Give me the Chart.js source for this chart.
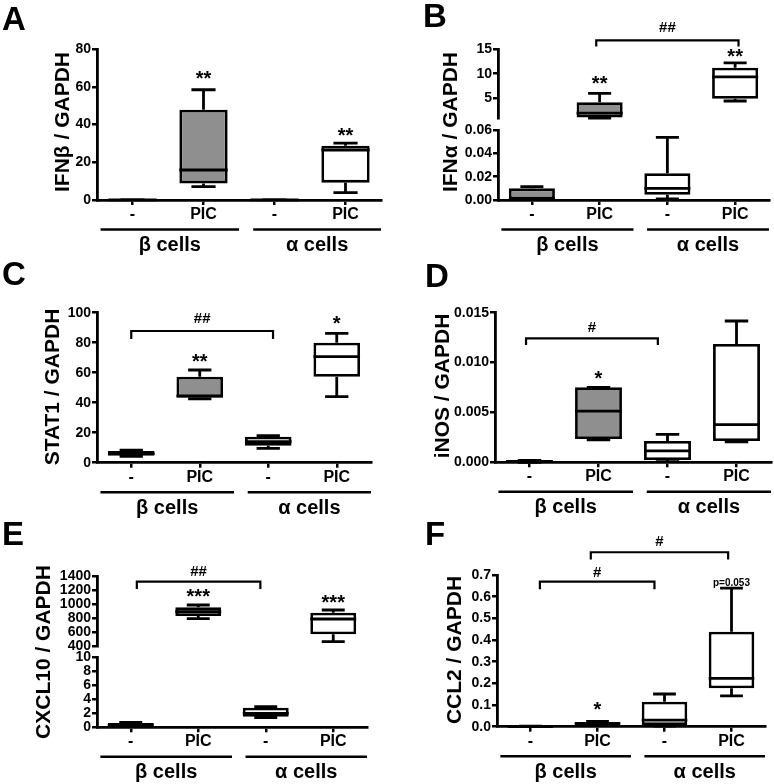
<!DOCTYPE html>
<html>
<head>
<meta charset="utf-8">
<script src="https://cdn.jsdelivr.net/npm/chart.js@4.4.1/dist/chart.umd.min.js"></script>
<style>
html, body { margin: 0; padding: 0; background: #fff; }
#fig { position: relative; width: 774px; height: 784px; overflow: hidden; }
#fig canvas { position: absolute; }
</style>
</head>
<body>
<div id="fig"></div>
<script>
// categories
const categories = ['-', 'PIC', '-', 'PIC'];
const groups = ['β cells', 'α cells'];

// box stats for each category: [min, q1, median, q3, max]
const ifnBeta = [[0.02, 0.05, 0.1, 0.15, 0.2], [7.1, 8.8, 15.9, 47.8, 58.4], [0.02, 0.04, 0.08, 0.12, 0.15], [3.9, 9.2, 26.5, 28.8, 30.1]];
const ifnAlpha = [[0.0003, 0.0005, 0.001, 0.010, 0.0115], [1.0, 1.1, 2.0, 4.2, 6.0], [0.001, 0.0045, 0.010, 0.0229, 0.0537], [4.45, 4.9, 9.35, 11.2, 12.2]];
const stat1 = [[4.3, 4.6, 6.0, 7.8, 8.3], [42.5, 43.3, 44.5, 57.3, 61.8], [9.6, 11.3, 14.0, 17.3, 18.0], [44.0, 57.3, 70.7, 80.0, 86.2]];
const inos = [[0, 0.00005, 0.0001, 0.00015, 0.0002], [0.00224, 0.00234, 0.00514, 0.00752, 0.00752], [0.00007, 0.00023, 0.00114, 0.00214, 0.0028], [0.00204, 0.00214, 0.00378, 0.01186, 0.01417]];
const cxcl10 = [[0.1, 0.15, 0.3, 0.6, 0.7], [790, 829, 890, 952, 986], [1.4, 1.5, 2.0, 2.8, 2.95], [462, 567, 786, 876, 914]];
const ccl2 = [[0, 0.0005, 0.001, 0.0015, 0.002], [0.005, 0.008, 0.015, 0.02, 0.025], [0.003, 0.008, 0.03, 0.115, 0.151], [0.142, 0.177, 0.223, 0.438, 0.639]];

// tick labels
const ticksIfnBeta = [0, 20, 40, 60, 80];
const ticksIfnAlphaHigh = [5, 10, 15];
const ticksIfnAlphaLow = [0, 0.02, 0.04, 0.06];
const ticksStat1 = [0, 20, 40, 60, 80, 100];
const ticksInos = [0, 0.005, 0.010, 0.015];
const ticksCxclHigh = [400, 600, 800, 1000, 1200, 1400];
const ticksCxclLow = [0, 2, 4, 6, 8, 10];
const ticksCcl2 = [0, 0.1, 0.2, 0.3, 0.4, 0.5, 0.6, 0.7];

// styles
const FONT = '"Liberation Sans", Arial, Helvetica, sans-serif';
Chart.defaults.font.family = FONT;
const fills = ['#8f8f8f', '#8f8f8f', '#ffffff', '#ffffff'];
const groupSpans = [[-0.45, 1.5], [1.7, 3.5]];

// panel layout (pixels are canvas-local), annotations in axis units
const panels = [
  { letter: 'A', x: 0, y: 0, w: 387, h: 260, lx: 2, ly: 30, title: 'IFNβ / GAPDH', tx: 63, ty: 122,
    left: 97, right: 381, stats: ifnBeta, seg: [0, 0, 0, 0],
    segs: [{ top: 49, bottom: 200, min: 0, max: 80, ticks: ticksIfnBeta, dec: 0 }],
    marks: [{ c: 1, v: 65.7, t: '**' }, { c: 3, v: 35.5, t: '**' }],
    brackets: [] },
  { letter: 'B', x: 387, y: 0, w: 387, h: 260, lx: 36, ly: 27, title: 'IFNα / GAPDH', tx: 64, ty: 122,
    left: 111, right: 382, stats: ifnAlpha, seg: [1, 0, 1, 0],
    segs: [{ top: 49, bottom: 118, min: 1, max: 15, ticks: ticksIfnAlphaHigh, dec: 0 },
           { top: 130, bottom: 200, min: 0, max: 0.06, ticks: ticksIfnAlphaLow, dec: 2 }],
    marks: [{ c: 1, v: 8.4, t: '**' }, { c: 3, v: 14.0, t: '**' }],
    brackets: [{ a: 0.95, b: 3.05, line: 16.75, tick: 15.5, text: 19.3, t: '##' }] },
  { letter: 'C', x: 0, y: 260, w: 387, h: 260, lx: 2, ly: 25, title: 'STAT1 / GAPDH', tx: 53, ty: 127,
    left: 97, right: 371, stats: stat1, seg: [0, 0, 0, 0],
    segs: [{ top: 52.7, bottom: 202.7, min: 0, max: 100, ticks: ticksStat1, dec: 0 }],
    marks: [{ c: 1, v: 69, t: '**' }, { c: 3, v: 94.6, t: '*' }],
    brackets: [{ a: 0, b: 2.07, line: 87.8, tick: 82.5, text: 95.8, t: '##' }] },
  { letter: 'D', x: 387, y: 260, w: 387, h: 260, lx: 38, ly: 27, title: 'iNOS / GAPDH', tx: 56, ty: 126,
    left: 108, right: 384, stats: inos, seg: [0, 0, 0, 0],
    segs: [{ top: 52.7, bottom: 202.3, min: 0, max: 0.015, ticks: ticksInos, dec: 3 }],
    marks: [{ c: 1, v: 0.00867, t: '*' }],
    brackets: [{ a: -0.05, b: 1.86, line: 0.01243, tick: 0.01176, text: 0.01344, t: '#' }] },
  { letter: 'E', x: 0, y: 520, w: 387, h: 264, lx: 2, ly: 25, title: 'CXCL10 / GAPDH', tx: 44, ty: 132,
    left: 97, right: 367, stats: cxcl10, seg: [1, 0, 1, 0],
    segs: [{ top: 56, bottom: 126, min: 400, max: 1400, ticks: ticksCxclHigh, dec: 0 },
           { top: 137.3, bottom: 207.3, min: 0, max: 10, ticks: ticksCxclLow, dec: 0 }],
    marks: [{ c: 1, v: 1143, t: '***' }, { c: 3, v: 1057, t: '***' }],
    brackets: [{ a: 0.09, b: 1.92, line: 1319, tick: 1214, text: 1461, t: '##' }] },
  { letter: 'F', x: 387, y: 520, w: 387, h: 264, lx: 38, ly: 25, title: 'CCL2 / GAPDH', tx: 68, ty: 130,
    left: 110, right: 378, stats: ccl2, seg: [0, 0, 0, 0],
    segs: [{ top: 55, bottom: 206.7, min: 0, max: 0.7, ticks: ticksCcl2, dec: 1 }],
    marks: [{ c: 1, v: 0.091, t: '*' }, { c: 3, v: 0.662, t: 'p=0.053' }],
    brackets: [{ a: 0.14, b: 1.85, line: 0.669, tick: 0.634, text: 0.708, t: '#' },
               { a: 0.9, b: 2.95, line: 0.805, tick: 0.772, text: 0.854, t: '#' }] }
];

const fig = document.getElementById('fig');

function drawBoxes(chart, stats) {
  const ctx = chart.ctx, xs = chart.scales.x, ys = chart.scales.y;
  const bars = chart.getDatasetMeta(0).data;
  ctx.save();
  ctx.strokeStyle = '#000';
  ctx.lineWidth = 2.8;
  stats.forEach((s, i) => {
    if (!s) return;
    const cx = xs.getPixelForValue(i), hw = bars[i].width / 2;
    const [mn, q1, md, q3, mx] = s.map(v => ys.getPixelForValue(v));
    ctx.beginPath();
    ctx.moveTo(cx - hw, md); ctx.lineTo(cx + hw, md);
    ctx.moveTo(cx, q3); ctx.lineTo(cx, mx);
    ctx.moveTo(cx - hw / 2, mx); ctx.lineTo(cx + hw / 2, mx);
    ctx.moveTo(cx, q1); ctx.lineTo(cx, mn);
    ctx.moveTo(cx - hw / 2, mn); ctx.lineTo(cx + hw / 2, mn);
    ctx.stroke();
  });
  ctx.restore();
}

function drawText(chart, p, si) {
  const ctx = chart.ctx, xs = chart.scales.x, ys = chart.scales.y;
  const x0 = xs.getPixelForValue(0);
  const step = xs.getPixelForValue(1) - x0;
  const px = c => x0 + c * step;
  ctx.save();
  ctx.fillStyle = '#000';
  ctx.strokeStyle = '#000';
  ctx.textAlign = 'center';
  ctx.textBaseline = 'middle';

  if (si === 0) {
    p.marks.forEach(m => {
      let size = 20, dy = 3.4;
      if (m.t[0] !== '*') { size = 10; dy = 0; }
      ctx.font = 'bold ' + size + 'px ' + FONT;
      ctx.fillText(m.t, px(m.c), ys.getPixelForValue(m.v) + dy);
    });
    ctx.lineWidth = 2.2;
    p.brackets.forEach(b => {
      const yl = ys.getPixelForValue(b.line), yt = ys.getPixelForValue(b.tick);
      ctx.beginPath();
      ctx.moveTo(px(b.a), yt); ctx.lineTo(px(b.a), yl);
      ctx.lineTo(px(b.b), yl); ctx.lineTo(px(b.b), yt);
      ctx.stroke();
      ctx.font = 'bold 15px ' + FONT;
      ctx.fillText(b.t, px((b.a + b.b) / 2), ys.getPixelForValue(b.text));
    });
  }

  if (si === p.segs.length - 1) {
    const bottom = chart.chartArea.bottom;
    ctx.lineWidth = 2.5;
    ctx.font = 'bold 20px ' + FONT;
    ctx.textBaseline = 'alphabetic';
    groupSpans.forEach((g, gi) => {
      ctx.beginPath();
      ctx.moveTo(px(g[0]), bottom + 29.5);
      ctx.lineTo(px(g[1]), bottom + 29.5);
      ctx.stroke();
      ctx.fillText(groups[gi], px((g[0] + g[1]) / 2), bottom + 51);
    });
    // y axis title
    ctx.save();
    ctx.translate(p.tx, p.ty);
    ctx.rotate(-Math.PI / 2);
    ctx.textBaseline = 'middle';
    ctx.font = 'bold 21px ' + FONT;
    ctx.fillText(p.title, 0, 0);
    ctx.restore();
    // panel letter
    ctx.textAlign = 'left';
    ctx.font = 'bold 33px ' + FONT;
    ctx.fillText(p.letter, p.lx, p.ly);
  }
  ctx.restore();
}

function makeSegment(p, si) {
  const seg = p.segs[si];
  const last = si === p.segs.length - 1;
  const cv = document.createElement('canvas');
  cv.width = p.w;
  cv.height = p.h;
  cv.style.left = p.x + 'px';
  cv.style.top = p.y + 'px';
  fig.appendChild(cv);
  const inSeg = p.stats.map((s, i) => (p.seg[i] === si ? s : null));

  new Chart(cv, {
    type: 'bar',
    data: {
      labels: categories,
      datasets: [{
        data: inSeg.map(s => (s ? [s[1], s[3]] : null)),
        backgroundColor: fills,
        borderColor: '#000',
        borderWidth: 2.8,
        borderSkipped: false,
        barPercentage: 0.68,
        categoryPercentage: 1,
        clip: false
      }]
    },
    options: {
      responsive: false,
      animation: false,
      devicePixelRatio: 1,
      layout: { padding: { top: seg.top, right: p.w - p.right, left: 0, bottom: 0 } },
      plugins: { legend: { display: false }, tooltip: { enabled: false } },
      scales: {
        x: {
          type: 'category',
          offset: true,
          grid: { display: last, drawOnChartArea: false, drawTicks: true, tickLength: 5, color: '#000', lineWidth: 2.5, offset: false },
          border: { display: last, color: '#000', width: 2.8 },
          ticks: { display: last, color: '#000', font: { size: 16, weight: 'bold' }, padding: 0, autoSkip: false, maxRotation: 0 },
          afterFit: s => { s.height = p.h - seg.bottom; }
        },
        y: {
          min: seg.min,
          max: seg.max,
          grid: { drawOnChartArea: false, drawTicks: true, tickLength: 5, color: '#000', lineWidth: 2.5 },
          border: { display: true, color: '#000', width: 2.8 },
          ticks: { color: '#000', font: { size: 14, weight: 'bold' }, padding: 1, autoSkip: false,
                   callback: v => Number(v).toFixed(seg.dec) },
          afterBuildTicks: s => { s.ticks = seg.ticks.map(v => ({ value: v })); },
          afterFit: s => { s.width = p.left; }
        }
      }
    },
    plugins: [
      { id: 'boxWhisker', afterDatasetsDraw: chart => drawBoxes(chart, inSeg) },
      { id: 'panelText', afterDraw: chart => drawText(chart, p, si) }
    ]
  });
}

panels.forEach(p => {
  // lower segment first so the upper one sits on top
  for (let si = p.segs.length - 1; si >= 0; si--) makeSegment(p, si);
});
</script>
</body>
</html>
